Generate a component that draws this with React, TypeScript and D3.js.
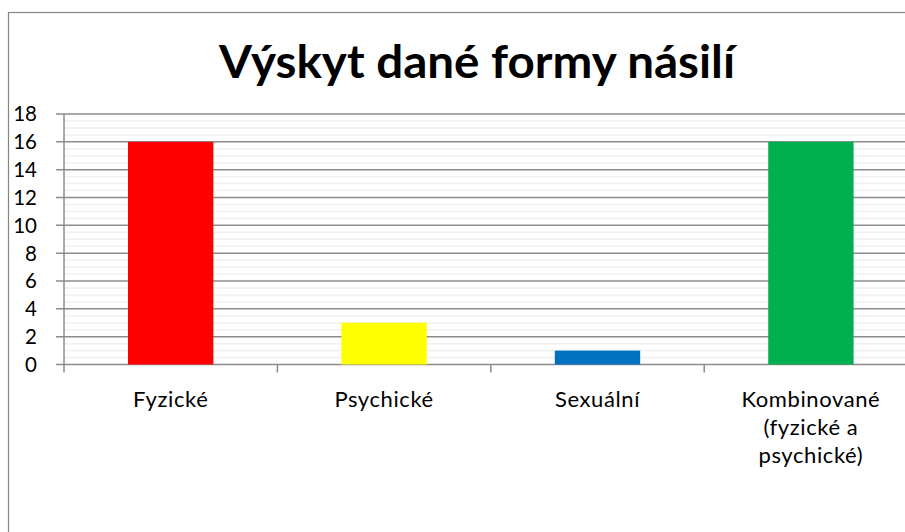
import React, { useEffect, useRef } from 'react';
import * as d3 from 'd3';

const categories = ['Fyzické', 'Psychické', 'Sexuální', 'Kombinované (fyzické a psychické)'];
const categoryLines = [['Fyzické'], ['Psychické'], ['Sexuální'], ['Kombinované', '(fyzické a', 'psychické)']];
const values = [16, 3, 1, 16];
const barColors = ['#ff0000', '#ffff00', '#0070c0', '#00b050'];
const yTicks = [0, 2, 4, 6, 8, 10, 12, 14, 16, 18];
const chartTitle = 'Výskyt dané formy násilí';

const WIDTH = 905;
const HEIGHT = 532;

const App: React.FC = () => {
    const svgRef = useRef<SVGSVGElement>(null);

    useEffect(() => {
        const svg = d3.select(svgRef.current);
        svg.selectAll('*').remove();

        const font = 'Lato, Carlito, Calibri, sans-serif';
        const plotLeft = 64;
        const plotTop = 114;
        const plotBottom = 364.5;
        const bandW = 213.4;

        svg.append('rect')
            .attr('x', 0).attr('y', 0)
            .attr('width', WIDTH).attr('height', HEIGHT)
            .attr('fill', '#fff');

        // outer chart border (cropped on right/bottom)
        svg.append('rect')
            .attr('x', 8.5).attr('y', 12.5)
            .attr('width', 940).attr('height', 540)
            .attr('fill', 'none')
            .attr('stroke', '#868686')
            .attr('stroke-width', 1.2);

        const x = d3.scaleBand<string>()
            .domain(categories)
            .range([plotLeft, plotLeft + bandW * categories.length])
            .paddingInner(0)
            .paddingOuter(0);

        const y = d3.scaleLinear()
            .domain([0, 18])
            .range([plotBottom, plotTop]);

        const plotRight = plotLeft + bandW * categories.length;

        // minor gridlines
        const minor = d3.range(0, 18.01, 0.5).filter(v => v % 2 !== 0);
        svg.append('g')
            .selectAll('line')
            .data(minor)
            .enter()
            .append('line')
            .attr('x1', plotLeft).attr('x2', plotRight)
            .attr('y1', d => y(d)).attr('y2', d => y(d))
            .attr('stroke', '#f0f0f0')
            .attr('stroke-width', 1.5);

        // major gridlines + ticks
        svg.append('g')
            .selectAll('line')
            .data(yTicks)
            .enter()
            .append('line')
            .attr('x1', plotLeft - 8).attr('x2', plotRight)
            .attr('y1', d => y(d)).attr('y2', d => y(d))
            .attr('stroke', '#8c8c8c')
            .attr('stroke-width', 1.5);

        // y axis line
        svg.append('line')
            .attr('x1', plotLeft).attr('x2', plotLeft)
            .attr('y1', plotTop).attr('y2', plotBottom + 8)
            .attr('stroke', '#8c8c8c')
            .attr('stroke-width', 1.5);

        // category ticks
        svg.append('g')
            .selectAll('line')
            .data(categories.slice(1))
            .enter()
            .append('line')
            .attr('x1', d => x(d)!).attr('x2', d => x(d)!)
            .attr('y1', plotBottom).attr('y2', plotBottom + 8)
            .attr('stroke', '#8c8c8c')
            .attr('stroke-width', 1.5);

        // bars
        const barW = x.bandwidth() / 2.5;
        svg.append('g')
            .selectAll('rect')
            .data(values)
            .enter()
            .append('rect')
            .attr('x', (d, i) => x(categories[i])! + (x.bandwidth() - barW) / 2)
            .attr('y', d => y(d))
            .attr('width', barW)
            .attr('height', d => y(0) - y(d))
            .attr('fill', (d, i) => barColors[i]);

        // y labels
        svg.append('g')
            .selectAll('text')
            .data(yTicks)
            .enter()
            .append('text')
            .attr('x', 37)
            .attr('y', d => y(d))
            .attr('dy', '0.36em')
            .attr('text-anchor', 'end')
            .style('font-family', font)
            .style('font-size', '20.5px')
            .style('fill', '#000')
            .text(d => d);

        // category labels
        const catG = svg.append('g');
        categoryLines.forEach((lines, i) => {
            const cx = x(categories[i])! + x.bandwidth() / 2;
            lines.forEach((ln, j) => {
                catG.append('text')
                    .attr('x', cx)
                    .attr('y', 407 + j * 28)
                    .attr('text-anchor', 'middle')
                    .style('font-family', font)
                    .style('font-size', '22px')
                    .style('letter-spacing', '0.6px')
                    .style('fill', '#000')
                    .text(ln);
            });
        });

        // title
        svg.append('text')
            .attr('x', 477)
            .attr('y', 78)
            .attr('text-anchor', 'middle')
            .attr('textLength', 516)
            .attr('lengthAdjust', 'spacingAndGlyphs')
            .style('font-family', font)
            .style('font-size', '45px')
            .style('font-weight', 'bold')
            .style('fill', '#000')
            .text(chartTitle);
    }, []);

    return (
        <svg
            ref={svgRef}
            width={WIDTH}
            height={HEIGHT}
            style={{ position: 'absolute', left: 0, top: 0, overflow: 'hidden' }}
        />
    );
};

export default App;
